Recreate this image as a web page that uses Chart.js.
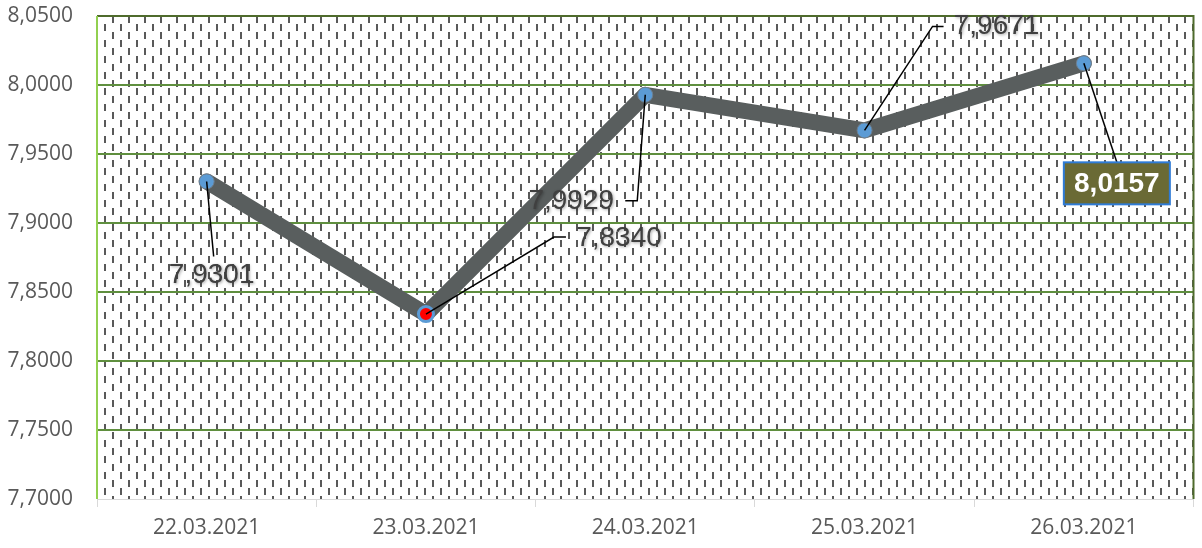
<!DOCTYPE html>
<html>
<head>
<meta charset="utf-8">
<script src="https://cdn.jsdelivr.net/npm/chart.js@4.4.1/dist/chart.umd.min.js"></script>
<style>
  html, body { margin: 0; padding: 0; background: #fff; }
  #wrap { width: 1202px; height: 548px; }
</style>
</head>
<body>
<div id="wrap"><canvas id="kurs"></canvas></div>
<script>
const dates = ["22.03.2021", "23.03.2021", "24.03.2021", "25.03.2021", "26.03.2021"];
const rates = [7.9301, 7.8340, 7.9929, 7.9671, 8.0157];
const yMin = 7.7;
const yMax = 8.05;
const yStep = 0.05;

// where each value label sits, relative to its point (pixels)
const labelSpots = [
  { dx: 5, dy: 94, leader: [[7, 75]] },
  { dx: 193, dy: -76, leader: [[128, -77], [140, -77]] },
  { dx: -74, dy: 106, leader: [[-8, 106], [-20, 106]] },
  { dx: 132, dy: -104, leader: [[68, -104], [79, -104]] },
  { dx: 33, dy: 120, leader: [[33, 99]], boxed: true },
];

const fmt = (v) => v.toFixed(4).replace(".", ",");

// dashed vertical fill like the excel pattern
function makePattern(ctx) {
  const tile = document.createElement("canvas");
  tile.width = 16;
  tile.height = 16;
  const t = tile.getContext("2d");
  t.fillStyle = "#ffffff";
  t.fillRect(0, 0, 16, 16);
  t.fillStyle = "#595959";
  t.fillRect(0, 0, 2, 7);
  t.fillRect(8, 8, 2, 7);
  return ctx.createPattern(tile, "repeat");
}

const plotBackground = {
  id: "plotBackground",
  beforeDraw(chart) {
    const { ctx, chartArea: a } = chart;
    ctx.save();
    ctx.fillStyle = makePattern(ctx);
    ctx.fillRect(a.left, a.top, a.right - a.left, a.bottom - a.top);
    ctx.restore();
  },
  beforeDatasetsDraw(chart) {
    const { ctx, chartArea: a } = chart;
    ctx.save();
    ctx.lineWidth = 2;
    ctx.strokeStyle = "#4f6b2c";
    ctx.beginPath();
    ctx.moveTo(a.left, a.top);
    ctx.lineTo(a.right, a.top);
    ctx.lineTo(a.right, a.bottom);
    ctx.stroke();
    ctx.strokeStyle = "#92d050";
    ctx.beginPath();
    ctx.moveTo(a.left, a.top);
    ctx.lineTo(a.left, a.bottom);
    ctx.stroke();
    ctx.restore();
  },
};

const valueLabels = {
  id: "valueLabels",
  afterDatasetsDraw(chart) {
    const { ctx } = chart;
    const pts = chart.getDatasetMeta(0).data;
    ctx.save();
    pts.forEach((p, i) => {
      const s = labelSpots[i];
      // leader line
      ctx.strokeStyle = "#000000";
      ctx.lineWidth = 1.5;
      ctx.beginPath();
      ctx.moveTo(p.x, p.y);
      s.leader.forEach(([lx, ly]) => ctx.lineTo(p.x + lx, p.y + ly));
      ctx.stroke();

      const cx = p.x + s.dx;
      const cy = p.y + s.dy;
      const text = fmt(rates[i]);
      ctx.textAlign = "center";
      ctx.textBaseline = "middle";
      if (s.boxed) {
        ctx.fillStyle = "#6a6a35";
        ctx.fillRect(cx - 53, cy - 21, 106, 42);
        ctx.strokeStyle = "#2e7bd6";
        ctx.lineWidth = 2;
        ctx.strokeRect(cx - 53, cy - 21, 106, 42);
        ctx.fillStyle = "#ffffff";
        ctx.font = "bold 28px 'Liberation Sans', Arial, sans-serif";
        ctx.fillText(text, cx, cy + 1);
      } else {
        ctx.shadowColor = "rgba(0,0,0,0.35)";
        ctx.shadowBlur = 3;
        ctx.shadowOffsetX = 1;
        ctx.shadowOffsetY = 1;
        ctx.fillStyle = "#404040";
        ctx.font = "28px 'Liberation Sans', Arial, sans-serif";
        ctx.fillText(text, cx, cy);
        ctx.shadowColor = "transparent";
      }
    });
    ctx.restore();
  },
};

const axisFont = { family: "'Open Sans', sans-serif", size: 21 };

new Chart(document.getElementById("kurs"), {
  type: "line",
  data: {
    labels: dates,
    datasets: [
      {
        data: rates,
        borderColor: "#595e5e",
        borderWidth: 16,
        borderJoinStyle: "round",
        borderCapStyle: "round",
        tension: 0,
        pointRadius: 7.5,
        pointBackgroundColor: ["#5b9bd5", "#ff0000", "#5b9bd5", "#5b9bd5", "#5b9bd5"],
        pointBorderColor: ["#6d7f90", "#5b9bd5", "#6d7f90", "#6d7f90", "#6d7f90"],
        pointBorderWidth: [1, 3, 1, 1, 1],
      },
    ],
  },
  options: {
    responsive: true,
    maintainAspectRatio: false,
    animation: false,
    layout: { padding: { top: 16, right: 8, left: 0, bottom: 0 } },
    plugins: {
      legend: { display: false },
      tooltip: { enabled: false },
    },
    scales: {
      x: {
        offset: true,
        grid: {
          offset: true,
          drawOnChartArea: false,
          drawTicks: true,
          tickLength: 8,
          color: "#d9d9d9",
        },
        border: { color: "#d9d9d9", width: 1 },
        ticks: { color: "#595959", font: axisFont, padding: 8, maxRotation: 0 },
        afterFit: (s) => { s.height = 49; },
      },
      y: {
        min: yMin,
        max: yMax,
        ticks: {
          stepSize: yStep,
          color: "#595959",
          font: axisFont,
          padding: 24,
          callback: (v) => fmt(v),
        },
        grid: {
          drawTicks: false,
          lineWidth: 2,
          color: (c) => (Math.abs(c.tick.value - yMin) < 1e-6 ? "rgba(0,0,0,0)" : "#5f8f3e"),
        },
        border: { display: false },
        afterFit: (s) => {
          s.width = 97;
          s.paddingTop = 0;
          s.paddingBottom = 0;
        },
      },
    },
  },
  plugins: [plotBackground, valueLabels],
});
</script>
</body>
</html>
